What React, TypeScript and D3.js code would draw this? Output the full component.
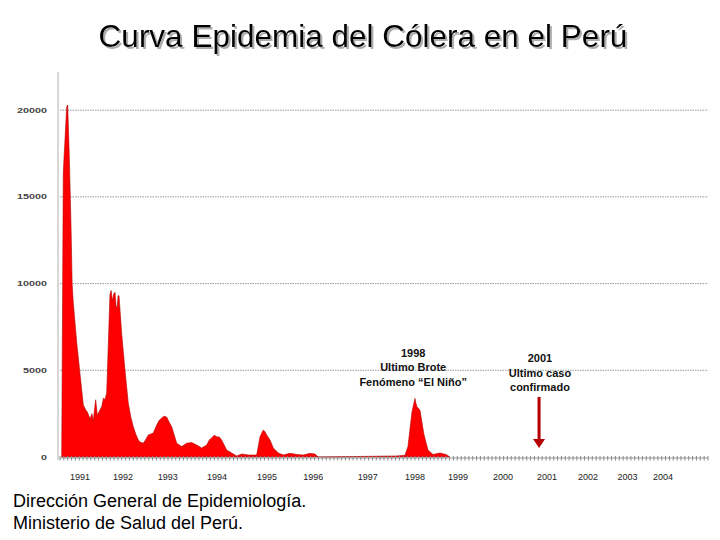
import { useEffect, useRef } from 'react';
import * as d3 from 'd3';

// weekly curve (decimal year, cases)
const years = [
  1991.037, 1991.071, 1991.145, 1991.166, 1991.201, 1991.238, 1991.262, 1991.287, 1991.361,
  1991.432, 1991.503, 1991.560, 1991.590, 1991.650, 1991.690, 1991.719, 1991.771, 1991.806,
  1991.860, 1991.901, 1991.940, 1991.972, 1992.009, 1992.080, 1992.105, 1992.130, 1992.160,
  1992.188, 1992.215, 1992.238, 1992.255, 1992.275, 1992.333, 1992.404, 1992.475, 1992.530,
  1992.583, 1992.640, 1992.691, 1992.740, 1992.800, 1992.850, 1992.908, 1993.016, 1993.089,
  1993.140, 1993.197, 1993.250, 1993.305, 1993.360, 1993.413, 1993.521, 1993.629, 1993.737,
  1993.845, 1993.953, 1994.061, 1994.169, 1994.230, 1994.277, 1994.330, 1994.385, 1994.440,
  1994.493, 1994.601, 1994.709, 1994.817, 1994.925, 1995.068, 1995.249, 1995.290, 1995.321,
  1995.392, 1995.430, 1995.465, 1995.537, 1995.608, 1995.716, 1995.824, 1995.969, 1996.113,
  1996.256, 1996.401, 1996.509, 1996.580, 1998.280, 1998.453, 1998.518, 1998.604, 1998.669,
  1998.690, 1998.712, 1998.777, 1998.863, 1998.950, 1999.058, 1999.209, 1999.339, 1999.425,
];
const cases = [
  0, 16400, 20200, 20300, 17300, 13300, 10000, 8900, 6600,
  4800, 3000, 2700, 2600, 2200, 2500, 2100, 3300, 2400,
  2700, 2900, 3400, 3300, 3700, 9400, 9600, 9000, 9400,
  9500, 8600, 8700, 9300, 9300, 7100, 5000, 3100, 2300,
  1750, 1300, 980, 850, 800, 1000, 1270, 1380, 1840,
  2100, 2250, 2350, 2300, 2000, 1750, 800, 600, 800,
  830, 690, 520, 690, 1000, 1100, 1250, 1170, 1150,
  980, 400, 230, 60, 170, 115, 115, 700, 1170,
  1560, 1450, 1270, 980, 520, 230, 115, 210, 150,
  115, 210, 170, 0, 60, 100, 600, 2600, 3380,
  3100, 2900, 2700, 1300, 400, 150, 230, 150, 0,
];

const yTicks = [0, 5000, 10000, 15000, 20000];
const yearLabels = ['1991', '1992', '1993', '1994', '1995', '1996', '1997', '1998', '1999', '2000', '2001', '2002', '2003', '2004'];
const yearLabelAt = [1991.43, 1992.36, 1993.33, 1994.39, 1995.47, 1996.47, 1997.65, 1998.67, 1999.60, 2000.57, 2001.52, 2002.41, 2003.26, 2004.03];

const title = 'Curva Epidemia del Cólera en el Perú';
const sourceLines = ['Dirección General de Epidemiología.', 'Ministerio de Salud del Perú.'];

const note1998 = ['1998', 'Ultimo Brote', 'Fenómeno “El Niño”'];
const note2001 = ['2001', 'Ultimo caso', 'confirmado'];
const lastCase = { year: 2001.35, from: 3460, to: 520 };

export default function App() {
  const svgRef = useRef<SVGSVGElement>(null);

  useEffect(() => {
    if (!svgRef.current) return;
    const svg = d3.select(svgRef.current);
    svg.selectAll('*').remove();

    const font = 'Arial, "Liberation Sans", sans-serif';

    const x = d3.scaleLinear().domain([1991, 2005]).range([60, 708]);
    const y = d3.scaleLinear().domain([0, 22200]).range([457, 72]);

    svg.append('rect').attr('width', 720).attr('height', 540).attr('fill', '#fff');

    // title with soft shadow
    const defs = svg.append('defs');
    defs.append('filter')
      .attr('id', 'title-shadow')
      .attr('x', '-5%').attr('y', '-20%')
      .attr('width', '110%').attr('height', '140%')
      .append('feDropShadow')
      .attr('dx', 2).attr('dy', 2)
      .attr('stdDeviation', 0.6)
      .attr('flood-color', '#999')
      .attr('flood-opacity', 0.8);
    svg.append('text')
      .attr('x', 363).attr('y', 47)
      .attr('text-anchor', 'middle')
      .attr('font-family', font).attr('font-size', 31.5)
      .attr('fill', '#000')
      .attr('filter', 'url(#title-shadow)')
      .text(title);

    // grid lines
    svg.append('g')
      .selectAll('line')
      .data(yTicks.filter(d => d > 0))
      .join('line')
      .attr('x1', x(1991)).attr('x2', x(2005))
      .attr('y1', d => y(d)).attr('y2', d => y(d))
      .attr('stroke', '#9a9a9a')
      .attr('stroke-width', 1)
      .attr('stroke-dasharray', '1.5,1');

    // y axis line
    svg.append('line')
      .attr('x1', 58).attr('x2', 58)
      .attr('y1', y(22200)).attr('y2', y(0) + 3)
      .attr('stroke', '#b0b0b0');

    // y tick labels
    svg.append('g')
      .selectAll('text')
      .data(yTicks)
      .join('text')
      .attr('x', 47)
      .attr('y', d => y(d) + 2.5)
      .attr('text-anchor', 'end')
      .attr('font-family', font)
      .attr('font-size', 7)
      .attr('font-weight', 'bold')
      .attr('fill', '#444')
      .attr('textLength', d => String(d).length * 6)
      .attr('lengthAdjust', 'spacingAndGlyphs')
      .text(d => String(d));

    // the epidemic curve
    const pts = years.map((yr, i) => [yr, cases[i]] as [number, number]);
    const area = d3.area<[number, number]>()
      .x(d => x(d[0]))
      .y0(y(0))
      .y1(d => y(d[1]));
    svg.append('path')
      .datum(pts)
      .attr('d', area)
      .attr('fill', '#ff0000')
      .attr('stroke', '#b00000')
      .attr('stroke-width', 0.6);

    // baseline with monthly ticks
    svg.append('line')
      .attr('x1', x(1991)).attr('x2', x(2005))
      .attr('y1', y(0) + 1).attr('y2', y(0) + 1)
      .attr('stroke', '#999');
    const months = d3.range(0, 14 * 12 + 1).map(m => 1991 + m / 12);
    svg.append('g')
      .selectAll('line')
      .data(months)
      .join('line')
      .attr('x1', d => x(d)).attr('x2', d => x(d))
      .attr('y1', y(0) - 1).attr('y2', y(0) + 3.5)
      .attr('stroke', '#888')
      .attr('stroke-width', 1);

    // year labels
    svg.append('g')
      .selectAll('text')
      .data(yearLabels)
      .join('text')
      .attr('x', (_, i) => x(yearLabelAt[i]))
      .attr('y', 480)
      .attr('text-anchor', 'middle')
      .attr('font-family', font)
      .attr('font-size', 9)
      .attr('fill', '#222')
      .text(d => d);

    // annotations
    const note = (lines: string[], at: number, top: number) => {
      svg.append('g')
        .selectAll('text')
        .data(lines)
        .join('text')
        .attr('x', x(at))
        .attr('y', (_, i) => y(top) + 4 + i * 14.5)
        .attr('text-anchor', 'middle')
        .attr('font-family', font)
        .attr('font-size', 11)
        .attr('font-weight', 'bold')
        .attr('fill', '#111')
        .text(d => d);
    };
    note(note1998, 1998.63, 6000);
    note(note2001, 2001.37, 5700);

    // arrow to the last confirmed case
    const ax = x(lastCase.year);
    svg.append('line')
      .attr('x1', ax).attr('x2', ax)
      .attr('y1', y(lastCase.from)).attr('y2', y(lastCase.to) - 8)
      .attr('stroke', '#b40000')
      .attr('stroke-width', 3);
    svg.append('path')
      .attr('d', `M${ax - 6},${y(lastCase.to) - 9} L${ax + 6},${y(lastCase.to) - 9} L${ax},${y(lastCase.to)} Z`)
      .attr('fill', '#b40000');

    // source
    svg.append('g')
      .selectAll('text')
      .data(sourceLines)
      .join('text')
      .attr('x', 13)
      .attr('y', (_, i) => 507 + i * 22)
      .attr('font-family', font)
      .attr('font-size', 18)
      .attr('fill', '#000')
      .text(d => d);
  }, []);

  return (
    <svg
      ref={svgRef}
      width={720}
      height={540}
      style={{ position: 'absolute', left: 0, top: 0 }}
    />
  );
}
